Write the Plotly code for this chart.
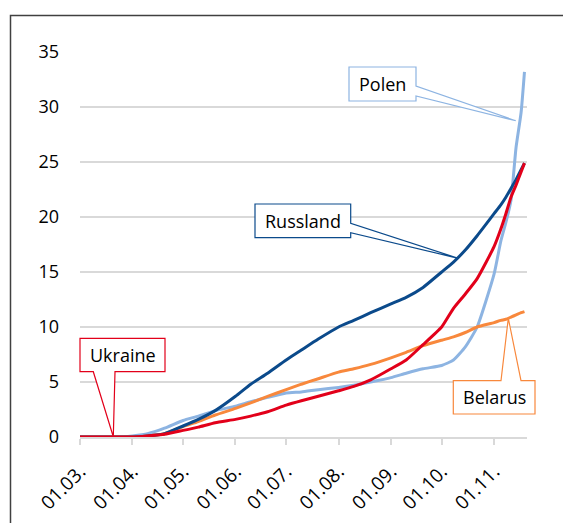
import plotly.graph_objects as go

dates = ["2020-03-01", "2020-03-15", "2020-03-25", "2020-04-01", "2020-04-10", "2020-04-20",
         "2020-05-01", "2020-05-10", "2020-05-20", "2020-06-01", "2020-06-10", "2020-06-20",
         "2020-07-01", "2020-07-10", "2020-07-20", "2020-08-01", "2020-08-10", "2020-08-20",
         "2020-09-01", "2020-09-10", "2020-09-20", "2020-10-01", "2020-10-08", "2020-10-15",
         "2020-10-22", "2020-11-01", "2020-11-05", "2020-11-08", "2020-11-11", "2020-11-14",
         "2020-11-17", "2020-11-19"]

polen = [0, 0, 0, 0.1, 0.3, 0.8, 1.5, 1.9, 2.4, 2.8, 3.2, 3.6, 4.0, 4.1, 4.3, 4.5, 4.7, 5.0,
         5.4, 5.8, 6.2, 6.5, 7.0, 8.2, 10.0, 14.8, 17.8, 19.5, 21.5, 26.3, 29.5, 33.2]
belarus = [0, 0, 0, 0, 0.1, 0.3, 0.95, 1.4, 2.0, 2.6, 3.1, 3.7, 4.3, 4.8, 5.3, 5.9, 6.2, 6.6,
           7.2, 7.7, 8.3, 8.8, 9.1, 9.5, 10.0, 10.4, 10.6, 10.7, 10.9, 11.1, 11.3, 11.4]
russland = [0, 0, 0, 0, 0.1, 0.3, 1.0, 1.6, 2.4, 3.7, 4.8, 5.8, 7.0, 7.9, 8.9, 10.0, 10.6, 11.3,
            12.1, 12.7, 13.6, 15.0, 15.9, 17.0, 18.3, 20.3, 21.1, 21.8, 22.6, 23.4, 24.3, 24.9]
ukraine = [0, 0, 0, 0, 0.1, 0.25, 0.6, 0.9, 1.3, 1.6, 1.9, 2.3, 2.9, 3.3, 3.7, 4.2, 4.6, 5.2,
           6.2, 7.0, 8.4, 10.0, 11.7, 13.0, 14.4, 17.3, 18.9, 20.3, 21.8, 22.9, 24.1, 24.9]

series_names = ["Polen", "Belarus", "Russland", "Ukraine"]
series_values = [polen, belarus, russland, ukraine]
series_colors = ["#8db4e2", "#f8883c", "#0b4a8b", "#e2001a"]

# page body has an 8px margin; figure is drawn from (8,8)
OFF = 8
W, H = 571 - OFF, 523 - OFF
PLOT_L, PLOT_R, PLOT_T, PLOT_B = 80, 527, 52, 437  # target page pixels
ML, MT = PLOT_L - OFF, PLOT_T - OFF
MR, MB = W - (PLOT_R - OFF), H - (PLOT_B - OFF)
PW, PH = PLOT_R - PLOT_L, PLOT_B - PLOT_T


def P(x, y):
    return (x - PLOT_L) / PW, (PLOT_B - y) / PH


def path(points):
    pts = [P(x, y) for x, y in points]
    return "M " + " L ".join(f"{a:.5f},{b:.5f}" for a, b in pts) + " Z"


fig = go.Figure()
for name, vals, col in zip(series_names, series_values, series_colors):
    fig.add_trace(go.Scatter(x=dates, y=vals, name=name, mode="lines",
                             line=dict(color=col, width=3, shape="spline", smoothing=0.5)))

shapes = []
annotations = []
callouts = [
    ("Polen", "#8db4e2", [(349, 67), (416, 67), (416, 86), (515.7, 120.7), (416, 96), (416, 101), (349, 101)],
     (382.5, 84)),
    ("Russland", "#0b4a8b", [(255, 204), (350.7, 204), (350.7, 223.3), (458.3, 258.3), (350.7, 232.7),
                             (350.7, 237.7), (255, 237.7)], (302.8, 221)),
    ("Ukraine", "#e2001a", [(80, 338.3), (165, 338.3), (165, 371.7), (115, 371.7), (113.3, 436.7),
                            (93.3, 371.7), (80, 371.7)], (122.5, 355)),
    ("Belarus", "#f8883c", [(453.3, 380.7), (501, 380.7), (508.3, 318.3), (521, 380.7), (535, 380.7),
                            (535, 414), (453.3, 414)], (494.2, 397.4)),
]
for text, col, pts, center in callouts:
    shapes.append(dict(type="path", xref="paper", yref="paper", path=path(pts),
                       line=dict(color=col, width=1.2), fillcolor="white", layer="above"))
    cx, cy = P(*center)
    annotations.append(dict(text=text, x=cx, y=cy, xref="paper", yref="paper", showarrow=False,
                            font=dict(size=18, color="black"), xanchor="center", yanchor="middle"))

# outer frame
fx0, fy0 = P(10.5, 15.5)
fx1, fy1 = P(640, 600)
shapes.append(dict(type="rect", xref="paper", yref="paper", x0=fx0, y0=fy1, x1=fx1, y1=fy0,
                   line=dict(color="#404040", width=1.5), layer="below"))

fig.update_layout(
    width=W, height=H,
    margin=dict(l=ML, r=MR, t=MT, b=MB, autoexpand=False),
    paper_bgcolor="white", plot_bgcolor="white",
    showlegend=False,
    font=dict(family="Open Sans", size=18, color="black"),
    shapes=shapes, annotations=annotations,
)
fig.update_xaxes(type="date", range=["2020-03-01", "2020-11-20 12:00"],
                 tick0="2020-03-01", dtick="M1", tickformat="%d.%m.", tickangle=-45,
                 ticks="outside", ticklen=6, tickcolor="#d9d9d9", tickwidth=1.5,
                 showline=True, linecolor="#d9d9d9", linewidth=2, showgrid=False, zeroline=False,
                 ticklabelstandoff=8, ticklabelshift=0, automargin=False, tickfont=dict(size=19))
fig.update_yaxes(range=[0, 35], dtick=5, showgrid=True, gridcolor="#d9d9d9", gridwidth=1.5,
                 zeroline=False, showline=False, ticks="", ticklabelstandoff=20, automargin=False,
                 tickfont=dict(size=18))

fig.write_html("out.html")
